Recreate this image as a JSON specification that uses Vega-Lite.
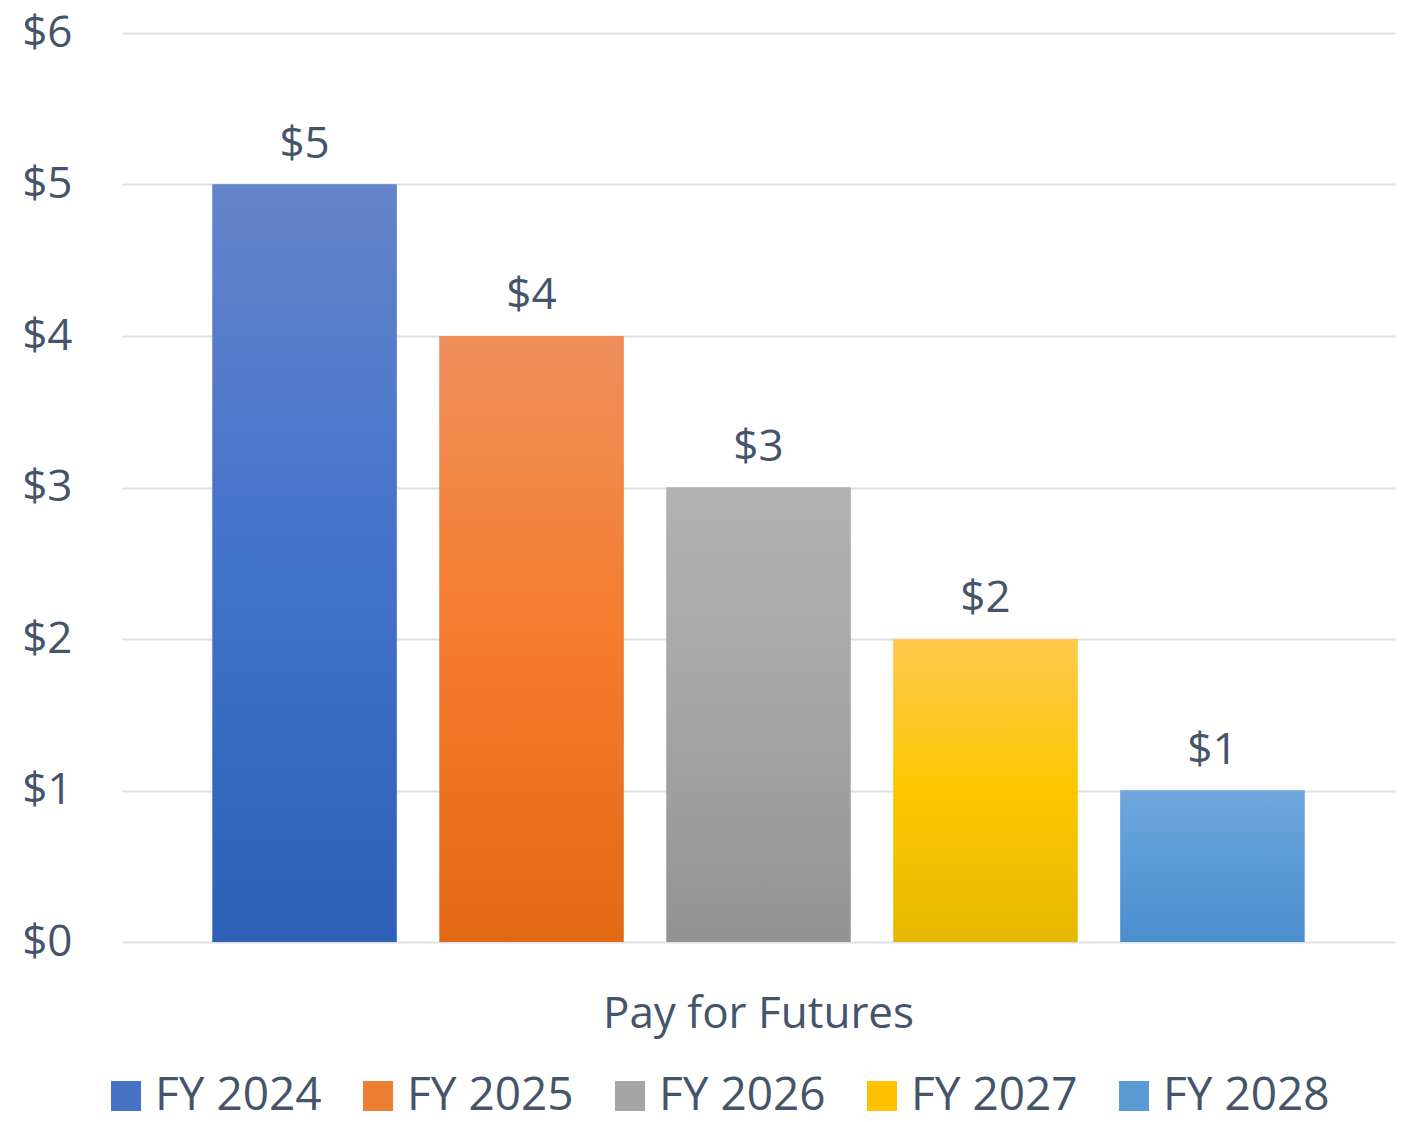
{
  "$schema": "https://vega.github.io/schema/vega-lite/v6.json",
  "width": 1273,
  "height": 909,
  "autosize": {"type": "none"},
  "padding": {"left": 122, "top": 33, "right": 10, "bottom": 180},
  "background": "white",
  "config": {
    "view": {"stroke": null},
    "font": "Open Sans",
    "axis": {"labelFont": "Open Sans", "labelColor": "#44546A"},
    "legend": {"labelFont": "Open Sans", "labelColor": "#44546A"}
  },
  "data": {
    "values": [
      {"category": "Pay for Futures", "fy": "FY 2024", "value": 5},
      {"category": "Pay for Futures", "fy": "FY 2025", "value": 4},
      {"category": "Pay for Futures", "fy": "FY 2026", "value": 3},
      {"category": "Pay for Futures", "fy": "FY 2027", "value": 2},
      {"category": "Pay for Futures", "fy": "FY 2028", "value": 1}
    ]
  },
  "encoding": {
    "x": {
      "field": "category",
      "type": "nominal",
      "scale": {"paddingInner": 0, "paddingOuter": 0.0829},
      "axis": {
        "title": null,
        "labelAngle": 0,
        "labelFontSize": 44,
        "labelPadding": 50,
        "labelLimit": 800,
        "ticks": false,
        "domain": false,
        "grid": false
      }
    },
    "xOffset": {
      "field": "fy",
      "type": "nominal",
      "scale": {"paddingInner": 0.189, "paddingOuter": 0}
    },
    "y": {
      "field": "value",
      "type": "quantitative",
      "scale": {"domain": [0, 6], "nice": false},
      "axis": {
        "title": null,
        "values": [0, 1, 2, 3, 4, 5, 6],
        "labelExpr": "'$' + datum.value",
        "labelFontSize": 44,
        "labelPadding": 50,
        "ticks": false,
        "domain": false,
        "gridColor": "#DDE0E6",
        "gridWidth": 2
      }
    }
  },
  "layer": [
    {
      "mark": {"type": "bar"},
      "encoding": {
        "fill": {
          "field": "fy",
          "type": "nominal",
          "scale": {"range": ["#4472C4", "#ED7D31", "#A5A5A5", "#FFC000", "#5B9BD5"]},
          "legend": {
            "title": null,
            "orient": "none",
            "direction": "horizontal",
            "legendX": -19,
            "legendY": 1040,
            "symbolType": "square",
            "symbolSize": 900,
            "symbolStrokeWidth": 0,
            "labelFontSize": 46,
            "labelOffset": 6,
            "columnPadding": 33,
            "labelLimit": 400
          }
        }
      }
    },
    {
      "mark": {"type": "bar"},
      "encoding": {
        "fill": {
          "condition": [
            {"test": "datum.fy === 'FY 2024'", "value": {"gradient": "linear", "x1": 0, "y1": 0, "x2": 0, "y2": 1, "stops": [{"offset": 0, "color": "#6384CB"}, {"offset": 0.5, "color": "#4272C9"}, {"offset": 1, "color": "#2E60B8"}]}},
            {"test": "datum.fy === 'FY 2025'", "value": {"gradient": "linear", "x1": 0, "y1": 0, "x2": 0, "y2": 1, "stops": [{"offset": 0, "color": "#F08F5C"}, {"offset": 0.5, "color": "#F47C2D"}, {"offset": 1, "color": "#E26914"}]}},
            {"test": "datum.fy === 'FY 2026'", "value": {"gradient": "linear", "x1": 0, "y1": 0, "x2": 0, "y2": 1, "stops": [{"offset": 0, "color": "#B2B2B2"}, {"offset": 0.5, "color": "#A5A5A5"}, {"offset": 1, "color": "#939393"}]}},
            {"test": "datum.fy === 'FY 2027'", "value": {"gradient": "linear", "x1": 0, "y1": 0, "x2": 0, "y2": 1, "stops": [{"offset": 0, "color": "#FFC94E"}, {"offset": 0.5, "color": "#FFC600"}, {"offset": 1, "color": "#E6B700"}]}}
          ],
          "value": {"gradient": "linear", "x1": 0, "y1": 0, "x2": 0, "y2": 1, "stops": [{"offset": 0, "color": "#70A7DD"}, {"offset": 0.5, "color": "#5A9BD8"}, {"offset": 1, "color": "#4A8ECE"}]}
        }
      }
    },
    {
      "mark": {"type": "text", "baseline": "alphabetic", "dy": -27, "fontSize": 44, "color": "#44546A"},
      "encoding": {
        "text": {"field": "value", "type": "quantitative", "format": "$d"}
      }
    }
  ]
}
